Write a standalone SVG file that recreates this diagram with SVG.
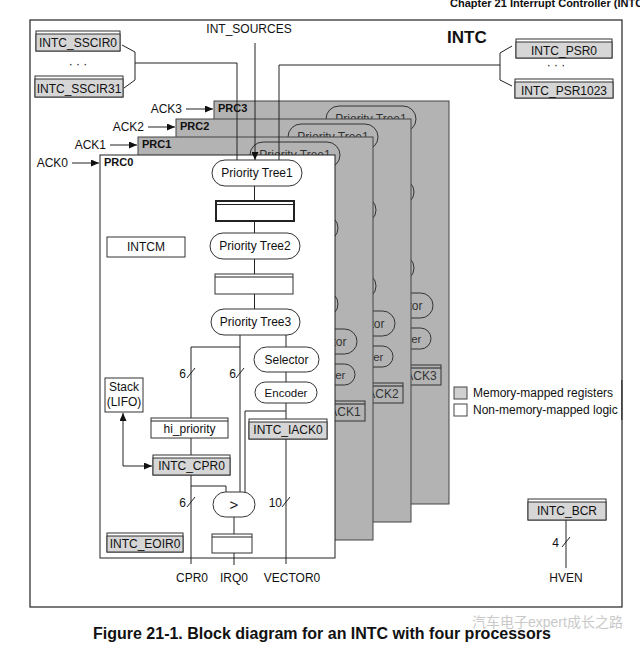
<svg xmlns="http://www.w3.org/2000/svg" width="640" height="655" viewBox="0 0 640 655">
<style>
text{font-family:"Liberation Sans",Arial,Helvetica,sans-serif;font-size:12px;fill:#111}
.c{text-anchor:middle}
.e{text-anchor:end}
.b{font-weight:bold}
.ln{stroke:#222;stroke-width:1;fill:none}
.pill{fill:#fff;stroke:#333;stroke-width:1}
.bpill{fill:none;stroke:#333;stroke-width:1}
.wtop{fill:#fff;stroke:#333;stroke-width:1}
.rg{fill:#d6d6d6;stroke:#333;stroke-width:1}
.rgb{fill:none;stroke:#333;stroke-width:1}
.panel{fill:#b3b3b3;stroke:#444;stroke-width:1}
.bt{fill:#333}
</style>
<defs>
<marker id="ah" markerWidth="8" markerHeight="7" refX="8" refY="3.5" orient="auto-start-reverse" markerUnits="userSpaceOnUse">
<path d="M0,0 L8,3.5 L0,7 z" fill="#111"/>
</marker>
</defs>
<rect width="640" height="655" fill="#fff"/>
<text x="450" y="7" class="b" style="font-size:11px">Chapter 21 Interrupt Controller (INTC)</text>
<rect id="intc-frame" x="30" y="20" width="592" height="587" fill="none" stroke="#222" stroke-width="1.2"/>
<text x="249" y="33" class="c">INT_SOURCES</text>
<text x="447" y="43" class="b" style="font-size:17px">INTC</text>

<g id="sscir0"><rect x="36" y="31" width="84" height="20" class="wtop"/><rect x="36" y="34" width="84" height="17" class="rg"/><text x="78" y="47" class="c">INTC_SSCIR0</text></g>
<text x="78" y="68" class="c">· · ·</text>
<g id="sscir31"><rect x="35" y="76" width="88" height="21" class="wtop"/><rect x="35" y="79" width="88" height="18" class="rg"/><text x="79" y="93" class="c">INTC_SSCIR31</text></g>
<g id="psr0"><rect x="516" y="39" width="96" height="19" class="wtop"/><rect x="516" y="42" width="96" height="16" class="rg"/><text x="564" y="55" class="c">INTC_PSR0</text></g>
<text x="556" y="69" class="c">· · ·</text>
<g id="psr1023"><rect x="515" y="79" width="98" height="19" class="wtop"/><rect x="515" y="82" width="98" height="16" class="rg"/><text x="564" y="95" class="c">INTC_PSR1023</text></g>

<g id="prc3">
<rect x="214" y="101" width="235" height="403" class="panel"/>
<text x="218" y="112" class="b" style="font-size:11px">PRC3</text>
<g transform="translate(114,-54)">
<rect x="212" y="160" width="90" height="26" rx="13" class="bpill"/><text x="257" y="177" class="c bt">Priority Tree1</text>
<rect x="210" y="233" width="90" height="26" rx="13" class="bpill"/><text x="255" y="250" class="c bt">Priority Tree2</text>
<rect x="211" y="309" width="89" height="26" rx="13" class="bpill"/><text x="255.5" y="326" class="c bt">Priority Tree3</text>
<rect x="254" y="347" width="65" height="25" rx="12.5" class="bpill"/><text x="286.5" y="364" class="c bt">Selector</text>
<rect x="255" y="382" width="62" height="21" rx="10.5" class="bpill"/><text x="286" y="397" class="c bt" style="font-size:11.5px">Encoder</text>
<rect x="249" y="419" width="78" height="20" class="rgb"/><line x1="249" y1="422" x2="327" y2="422" class="ln"/><text x="288" y="434" class="c bt">INTC_IACK3</text>
</g>
</g>
<g id="prc2">
<rect x="176" y="119" width="235" height="403" class="panel"/>
<text x="180" y="130" class="b" style="font-size:11px">PRC2</text>
<g transform="translate(76,-36)">
<rect x="212" y="160" width="90" height="26" rx="13" class="bpill"/><text x="257" y="177" class="c bt">Priority Tree1</text>
<rect x="210" y="233" width="90" height="26" rx="13" class="bpill"/><text x="255" y="250" class="c bt">Priority Tree2</text>
<rect x="211" y="309" width="89" height="26" rx="13" class="bpill"/><text x="255.5" y="326" class="c bt">Priority Tree3</text>
<rect x="254" y="347" width="65" height="25" rx="12.5" class="bpill"/><text x="286.5" y="364" class="c bt">Selector</text>
<rect x="255" y="382" width="62" height="21" rx="10.5" class="bpill"/><text x="286" y="397" class="c bt" style="font-size:11.5px">Encoder</text>
<rect x="249" y="419" width="78" height="20" class="rgb"/><line x1="249" y1="422" x2="327" y2="422" class="ln"/><text x="288" y="434" class="c bt">INTC_IACK2</text>
</g>
</g>
<g id="prc1">
<rect x="138" y="137" width="235" height="403" class="panel"/>
<text x="142" y="148" class="b" style="font-size:11px">PRC1</text>
<g transform="translate(38,-18)">
<rect x="212" y="160" width="90" height="26" rx="13" class="bpill"/><text x="257" y="177" class="c bt">Priority Tree1</text>
<rect x="210" y="233" width="90" height="26" rx="13" class="bpill"/><text x="255" y="250" class="c bt">Priority Tree2</text>
<rect x="211" y="309" width="89" height="26" rx="13" class="bpill"/><text x="255.5" y="326" class="c bt">Priority Tree3</text>
<rect x="254" y="347" width="65" height="25" rx="12.5" class="bpill"/><text x="286.5" y="364" class="c bt">Selector</text>
<rect x="255" y="382" width="62" height="21" rx="10.5" class="bpill"/><text x="286" y="397" class="c bt" style="font-size:11.5px">Encoder</text>
<rect x="249" y="419" width="78" height="20" class="rgb"/><line x1="249" y1="422" x2="327" y2="422" class="ln"/><text x="288" y="434" class="c bt">INTC_IACK1</text>
</g>
</g>
<g id="prc0">
<rect x="100" y="155" width="235" height="403" fill="#fff" stroke="#222" stroke-width="1"/>
<text x="104" y="166" class="b" style="font-size:11px">PRC0</text>
</g>

<text x="68" y="167" class="e">ACK0</text>
<text x="106" y="149" class="e">ACK1</text>
<text x="144" y="131" class="e">ACK2</text>
<text x="182" y="113" class="e">ACK3</text>

<g id="connectors">
<path d="M72,163 H99" class="ln" marker-end="url(#ah)"/>
<path d="M110,145 H137" class="ln" marker-end="url(#ah)"/>
<path d="M148,127 H175" class="ln" marker-end="url(#ah)"/>
<path d="M186,109 H213" class="ln" marker-end="url(#ah)"/>
<path d="M255,43 V160" class="ln" marker-end="url(#ah)"/>
<path d="M122,45 L135,52 V80 L124,88" class="ln"/>
<path d="M135,63 H237 V160" class="ln"/>
<path d="M512,46 L500,53 V80 L512,86" class="ln"/>
<path d="M500,65 H279 V160" class="ln"/>
<path d="M254.5,186 V309" class="ln"/>
<path d="M240,335 V492" class="ln"/>
<path d="M191,564 V347 H240" class="ln"/>
<path d="M286,335 V564" class="ln"/>
<path d="M286,411 H245 V492" class="ln"/>
<path d="M191,486 H226 V492" class="ln"/>
<path d="M234,517 V565" class="ln"/>
<path d="M123,413 V466 H152" class="ln" marker-start="url(#ah)" marker-end="url(#ah)"/>
<path d="M566,520 V568" class="ln"/>
<path d="M187,378 L195,368 M236,378 L244,368 M187,507 L195,497 M282,507 L290,497 M562,547 L570,537" class="ln"/>
</g>

<g id="tree1"><rect x="212" y="160" width="90" height="26" rx="13" class="pill"/><text x="257" y="177" class="c">Priority Tree1</text></g>
<g id="reg1"><rect x="216" y="201" width="78" height="20" fill="#fff" stroke="#222" stroke-width="2"/><line x1="216" y1="204.5" x2="294" y2="204.5" class="ln"/></g>
<g id="tree2"><rect x="210" y="233" width="90" height="26" rx="13" class="pill"/><text x="255" y="250" class="c">Priority Tree2</text></g>
<g id="reg2"><rect x="215" y="274" width="78" height="20" class="wtop"/><line x1="215" y1="277" x2="293" y2="277" class="ln"/></g>
<g id="tree3"><rect x="211" y="309" width="89" height="26" rx="13" class="pill"/><text x="255.5" y="326" class="c">Priority Tree3</text></g>
<g id="intcm"><rect x="107" y="237" width="78" height="20" class="wtop"/><text x="146" y="251" class="c">INTCM</text></g>
<g id="selector"><rect x="254" y="347" width="65" height="25" rx="12.5" class="pill"/><text x="286.5" y="364" class="c">Selector</text></g>
<g id="encoder"><rect x="255" y="382" width="62" height="21" rx="10.5" class="pill"/><text x="286" y="397" class="c" style="font-size:11.5px">Encoder</text></g>
<g id="stack"><rect x="105" y="378" width="38" height="34" class="wtop"/><text x="124" y="391" class="c">Stack</text><text x="124" y="406" class="c">(LIFO)</text></g>
<g id="hipriority"><rect x="151" y="418" width="77" height="20" class="wtop"/><line x1="151" y1="421" x2="228" y2="421" class="ln"/><text x="189.5" y="433" class="c">hi_priority</text></g>
<g id="iack0"><rect x="249" y="419" width="78" height="20" class="wtop"/><rect x="249" y="422" width="78" height="17" class="rg"/><text x="288" y="434" class="c">INTC_IACK0</text></g>
<g id="cpr0"><rect x="153" y="455" width="77" height="20" class="wtop"/><rect x="153" y="458" width="77" height="17" class="rg"/><text x="191.5" y="470" class="c">INTC_CPR0</text></g>
<g id="comparator"><rect x="213" y="492" width="42" height="25" rx="12.5" class="pill"/><text x="234" y="510" class="c" style="font-size:15px">&gt;</text></g>
<g id="irqreg"><rect x="212" y="534" width="40" height="19" class="wtop"/><line x1="212" y1="537" x2="252" y2="537" class="ln"/></g>
<g id="eoir0"><rect x="107" y="533" width="76" height="19" class="wtop"/><rect x="107" y="536" width="76" height="16" class="rg"/><text x="145" y="548" class="c">INTC_EOIR0</text></g>

<text x="186" y="378" class="e">6</text>
<text x="236" y="378" class="e">6</text>
<text x="186" y="507" class="e">6</text>
<text x="282" y="507" class="e">10</text>
<text x="559" y="547" class="e">4</text>

<text x="192" y="582" class="c">CPR0</text>
<text x="234" y="582" class="c">IRQ0</text>
<text x="292" y="582" class="c">VECTOR0</text>

<g id="legend">
<rect x="454" y="387" width="13" height="12" fill="#d0d0d0" stroke="#444"/>
<text x="473" y="397">Memory-mapped registers</text>
<rect x="454" y="404" width="13" height="12" fill="#fff" stroke="#444"/>
<text x="473" y="414">Non-memory-mapped logic</text>
</g>
<rect x="622.6" y="380" width="18" height="40" fill="#fff"/>
<line x1="622" y1="380" x2="622" y2="420" stroke="#222" stroke-width="1.2"/>

<g id="bcr"><rect x="528" y="499" width="78" height="21" class="wtop"/><rect x="528" y="502" width="78" height="18" class="rg"/><text x="567" y="515" class="c">INTC_BCR</text></g>
<text x="566" y="582" class="c">HVEN</text>

<text x="93" y="639" class="b" style="font-size:16px">Figure 21-1. Block diagram for an INTC with four processors</text>
<text x="472" y="627" style="font-size:14px;fill:#c4c4c4;font-family:'Liberation Sans','Noto Sans CJK SC',sans-serif;opacity:0.9">汽车电子expert成长之路</text>
</svg>
